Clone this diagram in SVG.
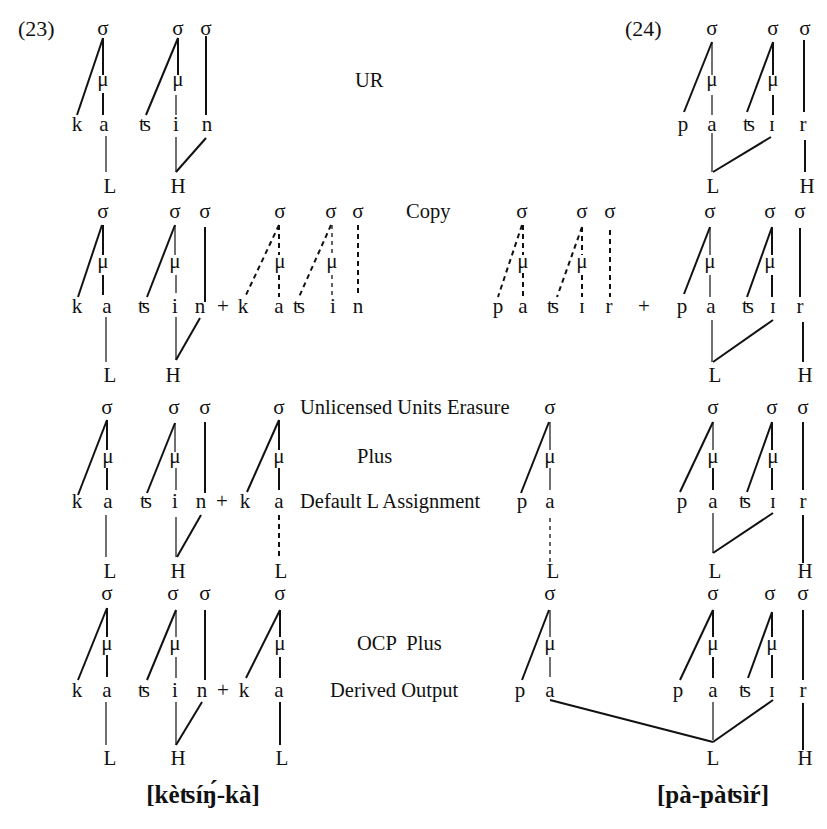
<svg xmlns="http://www.w3.org/2000/svg" width="827" height="829" viewBox="0 0 827 829">
<style>
text{font-family:"Liberation Serif","DejaVu Serif",serif;font-size:21px;fill:#111;text-anchor:middle}
.lbl{text-anchor:start;white-space:pre;font-size:20.5px}
.ex{text-anchor:start;font-size:22px}
.out{font-size:25px;font-weight:bold}
line{stroke:#111;stroke-linecap:butt}
.s{stroke-width:2}
.t{stroke-width:1.2}
.d{stroke-width:2;stroke-dasharray:5 4}
.dt{stroke-width:1.3;stroke-dasharray:4 4}
</style>
<rect width="827" height="829" fill="#fff"/>

<g id="labels">
<text class="ex" x="18" y="36">(23)</text>
<text class="ex" x="625" y="36">(24)</text>
<text class="lbl" x="355" y="87">UR</text>
<text class="lbl" x="406" y="218">Copy</text>
<text class="lbl" x="300" y="414">Unlicensed Units Erasure</text>
<text class="lbl" x="357" y="463">Plus</text>
<text class="lbl" x="300" y="508">Default L Assignment</text>
<text class="lbl" x="357" y="650">OCP  Plus</text>
<text class="lbl" x="330" y="697">Derived Output</text>
<text class="out" x="203" y="803">[kèʦíŋ́-kà]</text>
<text class="out" x="713" y="803">[pà-pàʦìŕ]</text>
</g>

<g id="connectors">
<!-- row 1 left -->
<line class="s" x1="103" y1="38" x2="77" y2="115"/>
<line class="s" x1="103" y1="38" x2="103" y2="75"/>
<line class="s" x1="103" y1="93" x2="103" y2="115"/>
<line class="t" x1="106" y1="136" x2="106" y2="172"/>
<line class="s" x1="178" y1="38" x2="146" y2="115"/>
<line class="s" x1="178" y1="38" x2="178" y2="75"/>
<line class="t" x1="176" y1="95" x2="176" y2="115"/>
<line class="s" x1="206" y1="36" x2="206" y2="115"/>
<line class="t" x1="176" y1="137" x2="176" y2="172"/>
<line class="s" x1="206" y1="138" x2="176" y2="172"/>
<!-- row 1 right -->
<line class="s" x1="712" y1="42" x2="684" y2="112"/>
<line class="t" x1="712" y1="42" x2="712" y2="75"/>
<line class="t" x1="712" y1="95" x2="712" y2="115"/>
<line class="s" x1="773" y1="42" x2="747" y2="112"/>
<line class="s" x1="773" y1="42" x2="773" y2="75"/>
<line class="s" x1="773" y1="95" x2="773" y2="115"/>
<line class="s" x1="804" y1="40" x2="804" y2="112"/>
<line class="t" x1="712" y1="133" x2="712" y2="172"/>
<line class="s" x1="771" y1="137" x2="713" y2="172"/>
<line class="s" x1="805" y1="140" x2="805" y2="172"/>

<!-- row 2 left -->
<line class="s" x1="102" y1="225" x2="78" y2="297"/>
<line class="s" x1="103" y1="225" x2="103" y2="255"/>
<line class="s" x1="103" y1="275" x2="103" y2="295"/>
<line class="t" x1="106" y1="317" x2="106" y2="362"/>
<line class="s" x1="175" y1="225" x2="147" y2="297"/>
<line class="t" x1="175" y1="225" x2="175" y2="255"/>
<line class="t" x1="176" y1="275" x2="176" y2="293"/>
<line class="s" x1="205" y1="227" x2="205" y2="302"/>
<line class="t" x1="176" y1="317" x2="176" y2="360"/>
<line class="s" x1="200" y1="318" x2="176" y2="360"/>
<line class="d" x1="279" y1="225" x2="245" y2="297"/>
<line class="d" x1="279" y1="225" x2="279" y2="255"/>
<line class="d" x1="279" y1="275" x2="279" y2="297"/>
<line class="d" x1="331" y1="225" x2="299" y2="297"/>
<line class="dt" x1="332" y1="225" x2="332" y2="255"/>
<line class="dt" x1="332" y1="275" x2="332" y2="297"/>
<line class="d" x1="358" y1="225" x2="358" y2="297"/>
<!-- row 2 right -->
<line class="d" x1="522" y1="225" x2="498" y2="297"/>
<line class="d" x1="523" y1="225" x2="523" y2="255"/>
<line class="d" x1="523" y1="273" x2="523" y2="297"/>
<line class="d" x1="582" y1="227" x2="557" y2="297"/>
<line class="d" x1="582" y1="227" x2="582" y2="255"/>
<line class="d" x1="582" y1="275" x2="582" y2="297"/>
<line class="d" x1="610" y1="230" x2="610" y2="297"/>
<line class="s" x1="710" y1="227" x2="684" y2="294"/>
<line class="t" x1="710" y1="227" x2="710" y2="255"/>
<line class="t" x1="710" y1="275" x2="710" y2="297"/>
<line class="s" x1="772" y1="227" x2="747" y2="297"/>
<line class="s" x1="772" y1="227" x2="772" y2="255"/>
<line class="s" x1="772" y1="275" x2="772" y2="297"/>
<line class="s" x1="800" y1="228" x2="800" y2="297"/>
<line class="t" x1="712" y1="320" x2="712" y2="362"/>
<line class="s" x1="773" y1="320" x2="713" y2="362"/>
<line class="s" x1="803" y1="322" x2="803" y2="362"/>

<!-- row 3 left -->
<line class="s" x1="107" y1="420" x2="78" y2="495"/>
<line class="s" x1="107" y1="420" x2="107" y2="450"/>
<line class="s" x1="107" y1="468" x2="107" y2="490"/>
<line class="t" x1="106" y1="515" x2="106" y2="557"/>
<line class="s" x1="175" y1="423" x2="147" y2="493"/>
<line class="t" x1="175" y1="423" x2="175" y2="452"/>
<line class="t" x1="176" y1="468" x2="176" y2="490"/>
<line class="s" x1="205" y1="422" x2="205" y2="493"/>
<line class="t" x1="176" y1="517" x2="176" y2="557"/>
<line class="s" x1="201" y1="515" x2="177" y2="557"/>
<line class="s" x1="279" y1="420" x2="247" y2="492"/>
<line class="s" x1="279" y1="420" x2="279" y2="450"/>
<line class="s" x1="279" y1="468" x2="279" y2="490"/>
<line class="d" x1="279" y1="515" x2="279" y2="557"/>
<!-- row 3 right -->
<line class="s" x1="549" y1="422" x2="521" y2="493"/>
<line class="t" x1="550" y1="422" x2="550" y2="450"/>
<line class="t" x1="550" y1="468" x2="550" y2="490"/>
<line class="dt" x1="550" y1="518" x2="550" y2="565"/>
<line class="s" x1="713" y1="422" x2="680" y2="492"/>
<line class="t" x1="713" y1="422" x2="713" y2="450"/>
<line class="s" x1="713" y1="468" x2="713" y2="490"/>
<line class="s" x1="772" y1="422" x2="747" y2="492"/>
<line class="s" x1="772" y1="422" x2="772" y2="450"/>
<line class="s" x1="772" y1="468" x2="772" y2="490"/>
<line class="s" x1="803" y1="422" x2="803" y2="490"/>
<line class="t" x1="713" y1="513" x2="713" y2="553"/>
<line class="s" x1="773" y1="513" x2="713" y2="553"/>
<line class="s" x1="803" y1="515" x2="803" y2="563"/>

<!-- row 4 left -->
<line class="s" x1="107" y1="608" x2="78" y2="680"/>
<line class="s" x1="107" y1="608" x2="107" y2="637"/>
<line class="s" x1="107" y1="655" x2="107" y2="677"/>
<line class="t" x1="106" y1="702" x2="106" y2="745"/>
<line class="s" x1="176" y1="610" x2="147" y2="680"/>
<line class="t" x1="176" y1="610" x2="176" y2="637"/>
<line class="t" x1="176" y1="657" x2="176" y2="678"/>
<line class="s" x1="205" y1="610" x2="205" y2="680"/>
<line class="t" x1="176" y1="702" x2="176" y2="745"/>
<line class="s" x1="202" y1="702" x2="176" y2="745"/>
<line class="s" x1="280" y1="610" x2="246" y2="678"/>
<line class="s" x1="280" y1="610" x2="280" y2="637"/>
<line class="s" x1="280" y1="657" x2="280" y2="678"/>
<line class="s" x1="280" y1="702" x2="280" y2="745"/>
<!-- row 4 right -->
<line class="s" x1="549" y1="610" x2="522" y2="680"/>
<line class="t" x1="550" y1="610" x2="550" y2="637"/>
<line class="t" x1="550" y1="657" x2="550" y2="677"/>
<line class="s" x1="550" y1="700" x2="713" y2="742"/>
<line class="s" x1="713" y1="610" x2="680" y2="680"/>
<line class="s" x1="713" y1="610" x2="713" y2="637"/>
<line class="s" x1="713" y1="657" x2="713" y2="678"/>
<line class="s" x1="772" y1="612" x2="748" y2="678"/>
<line class="s" x1="772" y1="612" x2="772" y2="637"/>
<line class="s" x1="772" y1="655" x2="772" y2="678"/>
<line class="s" x1="803" y1="610" x2="803" y2="680"/>
<line class="t" x1="713" y1="702" x2="713" y2="740"/>
<line class="s" x1="773" y1="700" x2="713" y2="742"/>
<line class="s" x1="803" y1="703" x2="803" y2="750"/>
</g>

<g id="r1-katsin">
<text x="103" y="35">σ</text><text x="178" y="35">σ</text><text x="206" y="35">σ</text>
<text x="103" y="86">μ</text><text x="178" y="86">μ</text>
<text x="77" y="131">k</text><text x="104" y="131">a</text><text x="145" y="131">ʦ</text><text x="176" y="131">i</text><text x="207" y="131">n</text>
<text x="110" y="193">L</text><text x="178" y="193">H</text>
</g>
<g id="r1-patsir">
<text x="712" y="35">σ</text><text x="773" y="35">σ</text><text x="805" y="35">σ</text>
<text x="712" y="86">μ</text><text x="773" y="86">μ</text>
<text x="683" y="131">p</text><text x="712" y="131">a</text><text x="749" y="131">ʦ</text><text x="772" y="131">ɪ</text><text x="803" y="131">r</text>
<text x="713" y="193">L</text><text x="807" y="193">H</text>
</g>

<g id="r2-katsin">
<text x="103" y="218">σ</text><text x="175" y="218">σ</text><text x="205" y="218">σ</text>
<text x="103" y="268">μ</text><text x="175" y="268">μ</text>
<text x="77" y="313">k</text><text x="107" y="313">a</text><text x="144" y="313">ʦ</text><text x="175" y="313">i</text><text x="200" y="313">n</text>
<text x="110" y="382">L</text><text x="173" y="382">H</text>
</g>
<g id="r2-plus1"><text x="223" y="313">+</text></g>
<g id="r2-copy-katsin">
<text x="280" y="218">σ</text><text x="331" y="218">σ</text><text x="358" y="218">σ</text>
<text x="280" y="268">μ</text><text x="332" y="268">μ</text>
<text x="243" y="313">k</text><text x="279" y="313">a</text><text x="299" y="313">ʦ</text><text x="333" y="313">i</text><text x="358" y="313">n</text>
</g>
<g id="r2-copy-patsir">
<text x="522" y="218">σ</text><text x="582" y="218">σ</text><text x="610" y="218">σ</text>
<text x="523" y="268">μ</text><text x="582" y="268">μ</text>
<text x="498" y="313">p</text><text x="523" y="313">a</text><text x="553" y="313">ʦ</text><text x="582" y="313">ɪ</text><text x="609" y="313">r</text>
</g>
<g id="r2-plus2"><text x="644" y="313">+</text></g>
<g id="r2-patsir">
<text x="710" y="218">σ</text><text x="770" y="218">σ</text><text x="800" y="218">σ</text>
<text x="710" y="268">μ</text><text x="770" y="268">μ</text>
<text x="682" y="313">p</text><text x="711" y="313">a</text><text x="748" y="313">ʦ</text><text x="773" y="313">ɪ</text><text x="800" y="313">r</text>
<text x="715" y="382">L</text><text x="805" y="382">H</text>
</g>

<g id="r3-katsin">
<text x="107" y="414">σ</text><text x="174" y="414">σ</text><text x="205" y="414">σ</text>
<text x="108" y="463">μ</text><text x="175" y="463">μ</text>
<text x="77" y="508">k</text><text x="108" y="508">a</text><text x="146" y="508">ʦ</text><text x="175" y="508">i</text><text x="201" y="508">n</text>
<text x="110" y="578">L</text><text x="178" y="578">H</text>
</g>
<g id="r3-plus1"><text x="222" y="508">+</text></g>
<g id="r3-ka">
<text x="279" y="414">σ</text><text x="279" y="463">μ</text>
<text x="245" y="508">k</text><text x="279" y="508">a</text>
<text x="281" y="578">L</text>
</g>
<g id="r3-pa">
<text x="550" y="414">σ</text><text x="550" y="463">μ</text>
<text x="522" y="508">p</text><text x="550" y="508">a</text>
<text x="553" y="578">L</text>
</g>
<g id="r3-patsir">
<text x="713" y="414">σ</text><text x="772" y="414">σ</text><text x="803" y="414">σ</text>
<text x="713" y="463">μ</text><text x="773" y="463">μ</text>
<text x="682" y="508">p</text><text x="713" y="508">a</text><text x="745" y="508">ʦ</text><text x="773" y="508">ɪ</text><text x="803" y="508">r</text>
<text x="715" y="578">L</text><text x="805" y="578">H</text>
</g>

<g id="r4-katsin">
<text x="107" y="600">σ</text><text x="173" y="600">σ</text><text x="205" y="600">σ</text>
<text x="107" y="650">μ</text><text x="175" y="650">μ</text>
<text x="77" y="697">k</text><text x="107" y="697">a</text><text x="144" y="697">ʦ</text><text x="175" y="697">i</text><text x="202" y="697">n</text>
<text x="110" y="765">L</text><text x="178" y="765">H</text>
</g>
<g id="r4-plus1"><text x="223" y="697">+</text></g>
<g id="r4-ka">
<text x="280" y="600">σ</text><text x="280" y="650">μ</text>
<text x="244" y="697">k</text><text x="279" y="697">a</text>
<text x="282" y="765">L</text>
</g>
<g id="r4-pa">
<text x="550" y="600">σ</text><text x="550" y="650">μ</text>
<text x="520" y="697">p</text><text x="550" y="697">a</text>
</g>
<g id="r4-patsir">
<text x="713" y="600">σ</text><text x="770" y="600">σ</text><text x="803" y="600">σ</text>
<text x="713" y="650">μ</text><text x="772" y="650">μ</text>
<text x="678" y="697">p</text><text x="713" y="697">a</text><text x="745" y="697">ʦ</text><text x="772" y="697">ɪ</text><text x="803" y="697">r</text>
<text x="713" y="765">L</text><text x="805" y="765">H</text>
</g>
</svg>
